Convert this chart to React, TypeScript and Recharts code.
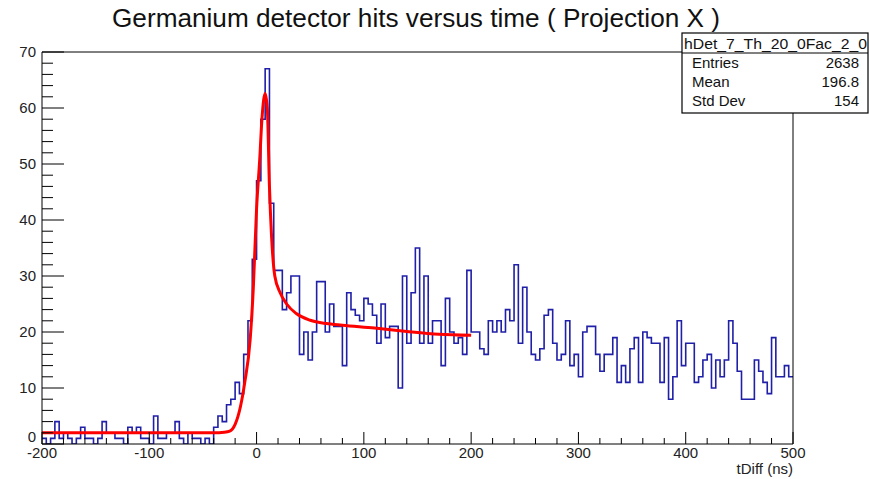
import React from "react";
import { ComposedChart, Line, XAxis, YAxis } from "recharts";

// histogram: 4 ns bins from -200 to 500 ns
const binLow = -200;
const binWidth = 4;
const counts = [
  1, 0, 1, 4, 1, 2, 1, 0, 1, 3,
  1, 1, 0, 1, 4, 2, 2, 1, 1, 0,
  3, 2, 3, 1, 1, 0, 5, 1, 1, 2,
  2, 4, 1, 0, 2, 1, 1, 0, 1, 0,
  3, 5, 4, 7, 8, 11, 9, 16, 22, 33,
  47, 58, 67, 43, 31, 31, 24, 27, 30, 30,
  16, 20, 15, 20, 29, 29, 20, 25, 21, 21,
  14, 27, 24, 23, 22, 26, 25, 23, 18, 25,
  19, 21, 21, 10, 30, 18, 27, 35, 18, 30,
  18, 22, 22, 14, 26, 20, 18, 19, 16, 31,
  20, 20, 17, 16, 22, 20, 22, 20, 24, 22,
  32, 18, 28, 20, 16, 15, 17, 23, 24, 18,
  15, 16, 22, 14, 16, 12, 20, 21, 21, 16,
  13, 16, 16, 19, 11, 14, 11, 17, 19, 11,
  20, 19, 18, 18, 11, 19, 8, 12, 22, 14,
  18, 18, 11, 12, 15, 16, 10, 15, 12, 15,
  22, 18, 13, 8, 8, 8, 15, 13, 11, 9,
  19, 12, 12, 14, 12,
];

// fit curve
const fitT = [-200, -100, -40, -30, -25, -20, -15, -11, -6, -3, 0, 3, 5, 8, 10, 12, 14, 17, 22, 28, 37, 50, 65, 80, 110, 140, 170, 200];
const fitY = [2.0, 2.0, 2.0, 2.1, 2.3, 3.5, 6.7, 11, 18.6, 28, 42, 51, 58, 62.6, 60, 46, 37, 30, 27, 25, 23.3, 22.1, 21.5, 21.2, 20.7, 20.1, 19.6, 19.4];

const xMajor = [-200, -100, 0, 100, 200, 300, 400, 500];
const yMajor = [0, 10, 20, 30, 40, 50, 60, 70];

const statsRows = [
  ["Entries", "2638"],
  ["Mean", "196.8"],
  ["Std Dev", "154"],
];

const histData = counts
  .map((c, i) => ({ t: binLow + i * binWidth, h: c }))
  .concat([{ t: binLow + counts.length * binWidth, h: counts[counts.length - 1] }]);
const fitData = fitT.map((t, i) => ({ t, f: fitY[i] }));

const xTicks: number[] = [];
for (let v = -200; v <= 500; v += 20) xTicks.push(v);
const yTicks: number[] = [];
for (let v = 0; v <= 70; v += 2) yTicks.push(v);

const FONT = "'Liberation Sans', Arial, sans-serif";

const XTick = (props: any) => {
  const { x, y, payload } = props;
  const major = xMajor.includes(payload.value);
  return (
    <g>
      <line x1={x} y1={y} x2={x} y2={y - (major ? 12 : 6)} stroke="#000" strokeWidth={1} />
      {major && (
        <text x={x} y={y + 14} textAnchor="middle" fontSize={15} fontFamily={FONT} fill="#222">
          {payload.value}
        </text>
      )}
    </g>
  );
};

const YTick = (props: any) => {
  const { x, y, payload } = props;
  const major = yMajor.includes(payload.value);
  // the zero label sits a little higher, clear of the x labels
  const dy = payload.value === 0 ? -2 : 5;
  return (
    <g>
      <line x1={x} y1={y} x2={x + (major ? 22 : 11)} y2={y} stroke="#000" strokeWidth={1} />
      {major && (
        <text x={x - 6} y={y + dy} textAnchor="end" fontSize={15} fontFamily={FONT} fill="#222">
          {payload.value}
        </text>
      )}
    </g>
  );
};

export default function App() {
  return (
    <div style={{ position: "absolute", left: 0, top: 0, width: 869, height: 479, background: "#fff" }}>
      <ComposedChart width={869} height={479} margin={{ top: 51, right: 75, bottom: 0, left: 0 }}>
        <XAxis
          dataKey="t"
          type="number"
          domain={[-200, 500]}
          ticks={xTicks}
          interval={0}
          height={35}
          tickSize={0}
          tickMargin={0}
          tickLine={false}
          tick={<XTick />}
          axisLine={{ stroke: "#000" }}
          allowDataOverflow
        />
        <XAxis
          xAxisId="top"
          orientation="top"
          dataKey="t"
          type="number"
          domain={[-200, 500]}
          height={1}
          tick={false}
          tickLine={false}
          axisLine={{ stroke: "#000" }}
        />
        <YAxis
          type="number"
          domain={[0, 70]}
          ticks={yTicks}
          interval={0}
          width={42}
          tickSize={0}
          tickMargin={0}
          tickLine={false}
          tick={<YTick />}
          axisLine={{ stroke: "#000" }}
          allowDataOverflow
        />
        <YAxis
          yAxisId="right"
          orientation="right"
          type="number"
          domain={[0, 70]}
          width={1}
          tick={false}
          tickLine={false}
          axisLine={{ stroke: "#000" }}
        />
        <Line
          data={histData}
          dataKey="h"
          type="stepAfter"
          stroke="#1f1fa8"
          strokeWidth={1.6}
          strokeLinejoin="miter"
          dot={false}
          activeDot={false}
          isAnimationActive={false}
        />
        <Line
          data={fitData}
          dataKey="f"
          type="monotone"
          stroke="#ff0000"
          strokeWidth={3}
          dot={false}
          activeDot={false}
          isAnimationActive={false}
        />
      </ComposedChart>
      <svg width={869} height={479} style={{ position: "absolute", left: 0, top: 0, pointerEvents: "none" }}>
        <text x={112} y={27} fontSize={26} fontFamily={FONT} fill="#111" textLength={608} lengthAdjust="spacingAndGlyphs">
          Germanium detector hits versus time ( Projection X )
        </text>
        <text x={793} y={474} textAnchor="end" fontSize={15} fontFamily={FONT} fill="#222">
          tDiff (ns)
        </text>
        <rect x={682} y={33} width={186} height={80} fill="#fff" stroke="#000" strokeWidth={1.2} />
        <line x1={682} y1={53} x2={868} y2={53} stroke="#000" strokeWidth={1} />
        <text x={684} y={49} fontSize={14} fontFamily={FONT} fill="#111" textLength={183} lengthAdjust="spacingAndGlyphs">
          hDet_7_Th_20_0Fac_2_0
        </text>
        {statsRows.map((r, i) => (
          <g key={r[0]}>
            <text x={692} y={68 + i * 19} fontSize={15} fontFamily={FONT} fill="#111">
              {r[0]}
            </text>
            <text x={859} y={68 + i * 19} textAnchor="end" fontSize={15} fontFamily={FONT} fill="#111">
              {r[1]}
            </text>
          </g>
        ))}
      </svg>
    </div>
  );
}
